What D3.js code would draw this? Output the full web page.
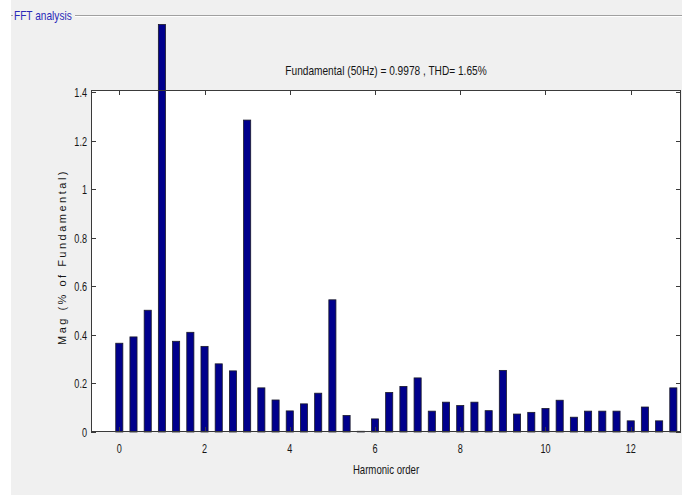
<!DOCTYPE html>
<html>
<head>
<meta charset="utf-8">
<script src="https://cdn.jsdelivr.net/npm/d3@7"></script>
<style>
  body { margin: 0; background: #fff; }
  svg { display: block; }
  text { font-family: "Liberation Sans", Arial, sans-serif; fill: #151515; }
</style>
</head>
<body>
<div id="chart"></div>
<script>
// harmonic orders (frequency resolution 1/3 of the fundamental)
var orders = [0, 0.333, 0.667, 1, 1.333, 1.667, 2, 2.333, 2.667, 3,
  3.333, 3.667, 4, 4.333, 4.667, 5, 5.333, 5.667, 6, 6.333,
  6.667, 7, 7.333, 7.667, 8, 8.333, 8.667, 9, 9.333, 9.667,
  10, 10.333, 10.667, 11, 11.333, 11.667, 12, 12.333, 12.667, 13];
// magnitude (% of fundamental), fundamental bar runs off the axes
var mags = [0.366, 0.392, 0.502, 1.68, 0.374, 0.411, 0.353, 0.281, 0.252, 1.286,
  0.182, 0.132, 0.087, 0.116, 0.160, 0.545, 0.068, 0.003, 0.054, 0.163,
  0.188, 0.223, 0.086, 0.123, 0.109, 0.123, 0.088, 0.254, 0.074, 0.081,
  0.097, 0.131, 0.061, 0.086, 0.086, 0.086, 0.046, 0.103, 0.046, 0.182];
var xTicks = [0, 2, 4, 6, 8, 10, 12];
var yTicks = [0, 0.2, 0.4, 0.6, 0.8, 1, 1.2, 1.4];
var titleText = "Fundamental (50Hz) = 0.9978 , THD= 1.65%";

function drawChart() {
  var width = 689, height = 495;
  var svg = d3.select('#chart').append('svg')
    .attr('width', width)
    .attr('height', height);

  // panel background
  svg.append('rect')
    .attr('x', 11).attr('y', 0)
    .attr('width', 671).attr('height', height)
    .attr('fill', '#f0f0f0');

  // panel frame line + title
  svg.append('line').attr('x1', 75).attr('x2', 682).attr('y1', 15.5).attr('y2', 15.5)
    .attr('stroke', '#a0a0a0');
  svg.append('line').attr('x1', 75).attr('x2', 682).attr('y1', 16.5).attr('y2', 16.5)
    .attr('stroke', '#ffffff');
  svg.append('line').attr('x1', 11).attr('x2', 13).attr('y1', 15.5).attr('y2', 15.5)
    .attr('stroke', '#a0a0a0');

  function narrowText(g, x, y, str, size, sx, anchor) {
    return g.append('text')
      .attr('transform', 'translate(' + x + ',' + y + ') scale(' + sx + ',1)')
      .attr('text-anchor', anchor)
      .attr('dominant-baseline', 'central')
      .style('font-size', size + 'px')
      .text(str);
  }

  narrowText(svg, 14, 15, 'FFT analysis', 13, 0.78, 'start').style('fill', '#2a2ab8');

  // axes
  var pLeft = 91, pRight = 681, pTop = 90, pBottom = 432;
  var x = d3.scaleLinear().domain([-0.664, 13.18]).range([pLeft, pRight]);
  var y = d3.scaleLinear().domain([0, 1.41]).range([pBottom, pTop]);

  svg.append('rect')
    .attr('x', pLeft).attr('y', pTop)
    .attr('width', pRight - pLeft).attr('height', pBottom - pTop)
    .attr('fill', '#fff');

  var barW = x(1 / 6) - x(0);
  svg.append('g').selectAll('rect')
    .data(orders)
    .enter().append('rect')
    .attr('x', function (d) { return x(d) - barW / 2; })
    .attr('y', function (d, i) { return y(mags[i]); })
    .attr('width', barW)
    .attr('height', function (d, i) { return y(0) - y(mags[i]); })
    .attr('fill', '#00008c')
    .attr('stroke', '#1a1a2a')
    .attr('stroke-width', 0.8);

  // box
  var axisColor = '#3a3a3a';
  svg.append('rect')
    .attr('x', pLeft + 0.5).attr('y', pTop + 0.5)
    .attr('width', pRight - pLeft - 1).attr('height', pBottom - pTop - 1)
    .attr('fill', 'none')
    .attr('stroke', axisColor);

  // ticks (inward, mirrored)
  var tickLen = 5;
  var axisG = svg.append('g').attr('stroke', axisColor);
  xTicks.forEach(function (t) {
    var px = Math.round(x(t)) + 0.5;
    axisG.append('line').attr('x1', px).attr('x2', px).attr('y1', pBottom).attr('y2', pBottom - tickLen);
    axisG.append('line').attr('x1', px).attr('x2', px).attr('y1', pTop).attr('y2', pTop + tickLen);
    narrowText(svg, x(t), 448, String(t), 13, 0.7, 'middle');
  });
  yTicks.forEach(function (t) {
    var py = Math.round(y(t)) + 0.5;
    axisG.append('line').attr('x1', pLeft).attr('x2', pLeft + tickLen).attr('y1', py).attr('y2', py);
    axisG.append('line').attr('x1', pRight).attr('x2', pRight - tickLen).attr('y1', py).attr('y2', py);
    narrowText(svg, 87, y(t), d3.format('~g')(t), 13, 0.7, 'end');
  });

  // title and labels
  narrowText(svg, (pLeft + pRight) / 2, 70, titleText, 13, 0.78, 'middle');
  narrowText(svg, (pLeft + pRight) / 2, 469, 'Harmonic order', 13, 0.74, 'middle');

  svg.append('text')
    .attr('transform', 'translate(62,' + ((pTop + pBottom) / 2 - 4) + ') rotate(-90)')
    .attr('text-anchor', 'middle')
    .attr('dominant-baseline', 'central')
    .style('font-size', '11px')
    .style('letter-spacing', '2.5px')
    .text('Mag (% of Fundamental)');
}

drawChart();
</script>
</body>
</html>
